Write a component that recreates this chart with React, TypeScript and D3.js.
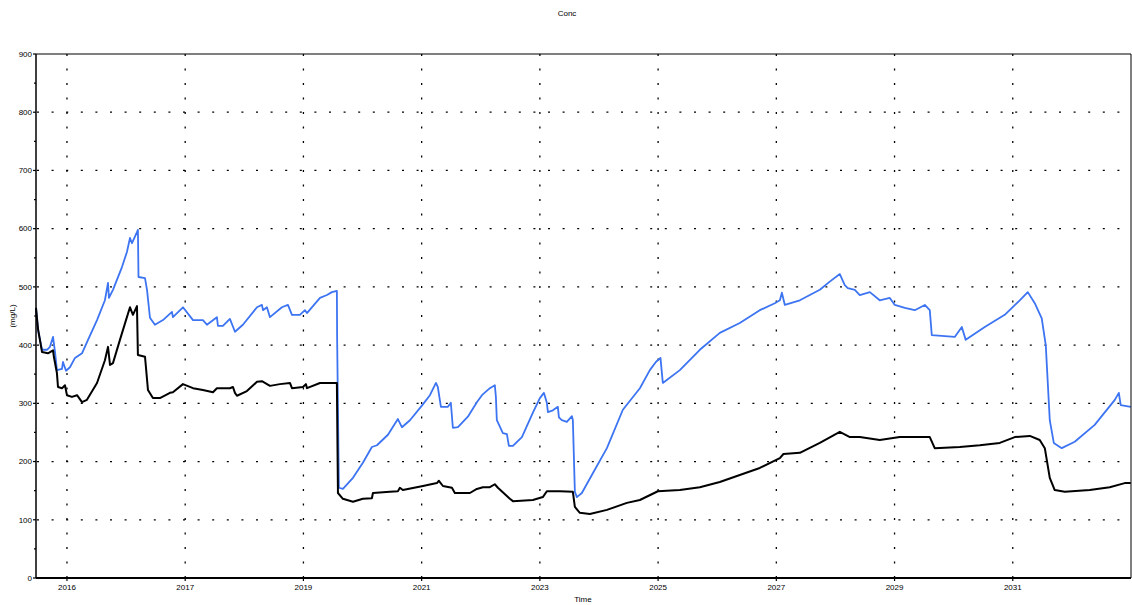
import React from "react";
import * as d3 from "d3";

// x positions are in "tick units": tick k sits at u = k
const xTickLabels = ["2016", "2017", "2019", "2021", "2023", "2025", "2027", "2029", "2031"];
const yTicks = [0, 100, 200, 300, 400, 500, 600, 700, 800, 900];
const yMinorTicks = [50, 150, 250, 350, 450, 550, 650, 750, 850];

const blueSeries: [number, number][] = [
  [-0.262, 464], [-0.245, 426], [-0.211, 392], [-0.169, 392], [-0.144, 397], [-0.118, 414], [-0.101, 388],
  [-0.085, 357], [-0.042, 359], [-0.034, 371], [-0.008, 356], [0.025, 362], [0.068, 378], [0.127, 386],
  [0.178, 409], [0.254, 443], [0.321, 477], [0.347, 507], [0.355, 481], [0.389, 495], [0.465, 534],
  [0.507, 560], [0.533, 584], [0.55, 575], [0.592, 594], [0.6, 598], [0.605, 517], [0.66, 515],
  [0.677, 495], [0.702, 447], [0.744, 435], [0.812, 443], [0.888, 457], [0.896, 448], [0.981, 465],
  [1.066, 443], [1.15, 443], [1.184, 435], [1.268, 448], [1.277, 433], [1.319, 433], [1.378, 445],
  [1.421, 423], [1.488, 435], [1.607, 465], [1.649, 469], [1.658, 460], [1.691, 465], [1.717, 448],
  [1.818, 465], [1.869, 469], [1.903, 452], [1.97, 452], [2.013, 460], [2.03, 455], [2.14, 481],
  [2.199, 486], [2.241, 491], [2.283, 493], [2.285, 414], [2.3, 155], [2.334, 153], [2.419, 172],
  [2.503, 198], [2.579, 225], [2.622, 228], [2.715, 246], [2.799, 273], [2.833, 259], [2.901, 271],
  [3.002, 296], [3.07, 314], [3.121, 335], [3.137, 328], [3.163, 294], [3.222, 294], [3.247, 301],
  [3.264, 258], [3.307, 259], [3.391, 277], [3.467, 302], [3.51, 314], [3.577, 326], [3.619, 331],
  [3.628, 311], [3.636, 271], [3.687, 249], [3.721, 247], [3.738, 227], [3.772, 227], [3.848, 242],
  [3.941, 284], [4.0, 309], [4.034, 318], [4.059, 301], [4.068, 285], [4.11, 288], [4.152, 294],
  [4.161, 276], [4.186, 271], [4.228, 268], [4.271, 278], [4.279, 271], [4.296, 148], [4.313, 139],
  [4.355, 146], [4.448, 180], [4.567, 223], [4.702, 289], [4.846, 326], [4.93, 357], [4.981, 371],
  [5.02, 378], [5.04, 335], [5.184, 357], [5.353, 392], [5.522, 421], [5.691, 438], [5.86, 460],
  [5.987, 472], [6.03, 477], [6.047, 490], [6.072, 469], [6.199, 477], [6.368, 495], [6.452, 509],
  [6.537, 522], [6.579, 503], [6.605, 498], [6.664, 495], [6.706, 486], [6.791, 491], [6.875, 477],
  [6.96, 481], [7.002, 469], [7.087, 464], [7.171, 460], [7.256, 469], [7.298, 460], [7.315, 417],
  [7.509, 414], [7.569, 431], [7.602, 409], [7.763, 431], [7.932, 452], [8.059, 477], [8.127, 491],
  [8.186, 472], [8.245, 446], [8.279, 400], [8.313, 271], [8.347, 232], [8.414, 223], [8.524, 234],
  [8.693, 263], [8.863, 306], [8.897, 318], [8.913, 297], [8.998, 294],
];

const blackSeries: [number, number][] = [
  [-0.262, 464], [-0.245, 428], [-0.211, 388], [-0.161, 386], [-0.118, 391], [-0.11, 379], [-0.085, 352],
  [-0.076, 328], [-0.042, 326], [-0.017, 331], [0, 314], [0.042, 311], [0.085, 314], [0.127, 302],
  [0.169, 306], [0.254, 335], [0.321, 374], [0.347, 397], [0.364, 366], [0.389, 369], [0.448, 409],
  [0.507, 448], [0.533, 465], [0.558, 452], [0.592, 467], [0.6, 383], [0.66, 380], [0.685, 323],
  [0.727, 309], [0.786, 309], [0.871, 318], [0.896, 319], [0.981, 333], [1.066, 326], [1.15, 323],
  [1.235, 319], [1.268, 326], [1.378, 326], [1.404, 328], [1.421, 318], [1.438, 313], [1.522, 321],
  [1.607, 337], [1.649, 338], [1.717, 330], [1.801, 333], [1.886, 335], [1.903, 326], [1.996, 328],
  [2.021, 333], [2.03, 326], [2.14, 335], [2.283, 335], [2.285, 292], [2.292, 146], [2.334, 136],
  [2.419, 131], [2.503, 136], [2.579, 137], [2.588, 146], [2.731, 148], [2.799, 149], [2.816, 155],
  [2.841, 151], [3.011, 158], [3.129, 163], [3.146, 167], [3.18, 158], [3.256, 155], [3.281, 146],
  [3.408, 146], [3.467, 153], [3.518, 156], [3.577, 156], [3.619, 161], [3.645, 155], [3.746, 136],
  [3.772, 132], [3.941, 134], [4.025, 139], [4.059, 149], [4.169, 149], [4.279, 148], [4.296, 122],
  [4.338, 112], [4.423, 110], [4.567, 117], [4.736, 129], [4.846, 134], [4.998, 149], [5.184, 151],
  [5.353, 156], [5.522, 165], [5.691, 177], [5.86, 189], [6.03, 206], [6.06, 213], [6.199, 215],
  [6.368, 232], [6.537, 251], [6.622, 242], [6.706, 242], [6.875, 237], [7.044, 242], [7.298, 242],
  [7.34, 223], [7.552, 225], [7.721, 228], [7.89, 232], [8.017, 242], [8.144, 244], [8.228, 237],
  [8.271, 223], [8.313, 172], [8.355, 151], [8.44, 148], [8.651, 151], [8.82, 156], [8.947, 163],
  [8.998, 163],
];

const W = 1132;
const H = 605;
const M = { left: 36, top: 54, right: 1131, bottom: 578 };
const font = "'Liberation Sans', Arial, sans-serif";

export default function App() {
  const x = d3.scaleLinear().domain([-0.262, 9.0]).range([M.left, M.right]);
  const y = d3.scaleLinear().domain([0, 900]).range([M.bottom, M.top]);
  const line = d3
    .line<[number, number]>()
    .x((d) => x(d[0]))
    .y((d) => y(d[1]));
  const xTicks = xTickLabels.map((_, i) => i);

  return (
    <svg
      width={W}
      height={H}
      style={{ position: "absolute", left: 0, top: 0, background: "#fff" }}
    >
      {/* grid */}
      {yTicks
        .filter((t) => t > 0 && t < 900)
        .map((t) => (
          <line
            key={"hg" + t}
            x1={M.left + 1}
            x2={M.right}
            y1={y(t)}
            y2={y(t)}
            stroke="#000"
            strokeWidth={1.3}
            strokeDasharray="2 12.6"
            strokeDashoffset={-14.6}
          />
        ))}
      {xTicks.map((t) => (
        <line
          key={"vg" + t}
          x1={x(t)}
          x2={x(t)}
          y1={M.top}
          y2={M.bottom}
          stroke="#000"
          strokeWidth={1.3}
          strokeDasharray="2 12.5"
        />
      ))}

      {/* lines */}
      <path d={line(blueSeries) ?? ""} fill="none" stroke="#3d74f2" strokeWidth={1.8} strokeLinejoin="round" />
      <path d={line(blackSeries) ?? ""} fill="none" stroke="#000" strokeWidth={2} strokeLinejoin="round" />

      {/* frame */}
      <line x1={M.left} x2={M.right} y1={M.top} y2={M.top} stroke="#000" strokeWidth={1.2} />
      <line x1={M.right} x2={M.right} y1={M.top} y2={M.bottom} stroke="#000" strokeWidth={1} />
      <line x1={M.left} x2={M.left} y1={M.top} y2={M.bottom} stroke="#000" strokeWidth={1.5} />
      <line x1={M.left} x2={M.right} y1={M.bottom} y2={M.bottom} stroke="#000" strokeWidth={2} />

      {/* y ticks */}
      {yTicks.map((t) => (
        <g key={"yt" + t}>
          <line x1={M.left - 3} x2={M.left} y1={y(t)} y2={y(t)} stroke="#000" strokeWidth={1.2} />
          <text
            x={M.left - 4}
            y={y(t)}
            dy="0.35em"
            textAnchor="end"
            fontFamily={font}
            fontSize={8}
            fill="#000"
          >
            {t}
          </text>
        </g>
      ))}
      {yMinorTicks.map((t) => (
        <line key={"ym" + t} x1={M.left - 2} x2={M.left} y1={y(t)} y2={y(t)} stroke="#000" strokeWidth={1.2} />
      ))}

      {/* x ticks */}
      {xTicks.map((t, i) => (
        <g key={"xt" + t}>
          <line x1={x(t)} x2={x(t)} y1={M.bottom} y2={M.bottom + 3} stroke="#000" strokeWidth={1.2} />
          <text
            x={x(t)}
            y={M.bottom + 12}
            textAnchor="middle"
            fontFamily={font}
            fontSize={8}
            fill="#000"
          >
            {xTickLabels[i]}
          </text>
        </g>
      ))}

      {/* titles */}
      <text x={567} y={16} textAnchor="middle" fontFamily={font} fontSize={8} fill="#000">
        Conc
      </text>
      <text x={583} y={602} textAnchor="middle" fontFamily={font} fontSize={8} fill="#000">
        Time
      </text>
      <text
        transform={`translate(15,${316}) rotate(-90)`}
        textAnchor="middle"
        fontFamily={font}
        fontSize={8}
        fill="#000"
      >
        (mg/L)
      </text>
    </svg>
  );
}
